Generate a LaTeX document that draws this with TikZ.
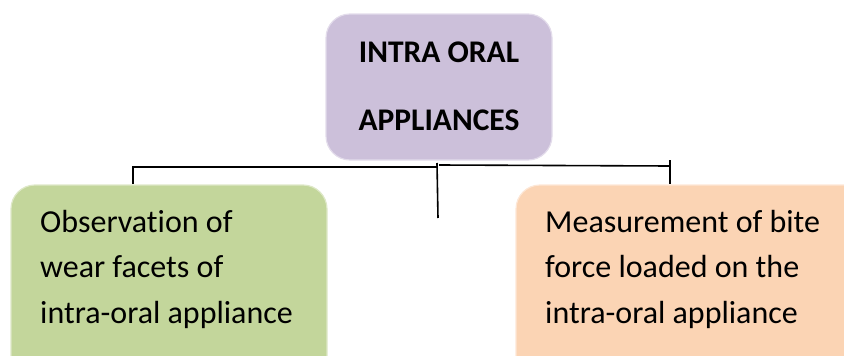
\documentclass[tikz,border=0pt]{standalone}
\usepackage{fontspec}
\setmainfont{Carlito}[Ligatures={NoCommon,TeX}]
\definecolor{lavender}{HTML}{CCC0DA}
\definecolor{leaf}{HTML}{C3D69B}
\definecolor{peach}{HTML}{FBD4B4}
\begin{document}
\begin{tikzpicture}[x=1pt,y=-1pt,
  box/.style={draw=#1!55!white, line width=1.2pt, fill=#1, rounded corners=24pt},
  link/.style={line width=1.6pt, black},
  label/.style={inner sep=0pt, anchor=base west, align=left, font=\fontsize{32}{45.5}\selectfont}]
  \useasboundingbox (0,0) rectangle (844,356);
  \clip (0,0) rectangle (844,356);
  % boxes
  \draw[box=lavender] (326,14) rectangle (552,160);
  \draw[box=leaf] (11,185) rectangle (327,380);
  \draw[box=peach] (516,185) rectangle (870,380);
  % texts (the base anchor of a multi-line node sits on its last line)
  \node[inner sep=0pt, anchor=base, align=center, font=\bfseries\fontsize{31.5}{68}\selectfont] (toptext) at (439,130) {INTRA ORAL\\APPLIANCES};
  \node[label] (lefttext) at (40,323) {Observation of\\wear facets of\\intra-oral appliance};
  \node[label] (righttext) at (545,323) {Measurement of bite\\force loaded on the\\intra-oral appliance};
  % connector tree
  \coordinate (lfoot) at (133,184);
  \coordinate (lcorner) at (133,167);
  \coordinate (mid) at (437,167);
  \coordinate (midtop) at (437,163);
  \coordinate (midend) at (438,218);
  \coordinate (rstart) at (439,165);
  \coordinate (rjoin) at (670,166);
  \coordinate (rtop) at (670,160);
  \coordinate (rfoot) at (670,184);
  \draw[link] (lfoot) -- (lcorner) -- (mid);
  \draw[link] (midtop) -- (midend);
  \draw[link] (rstart) -- (rjoin);
  \draw[link] (rtop) -- (rfoot);
\end{tikzpicture}
\end{document}
